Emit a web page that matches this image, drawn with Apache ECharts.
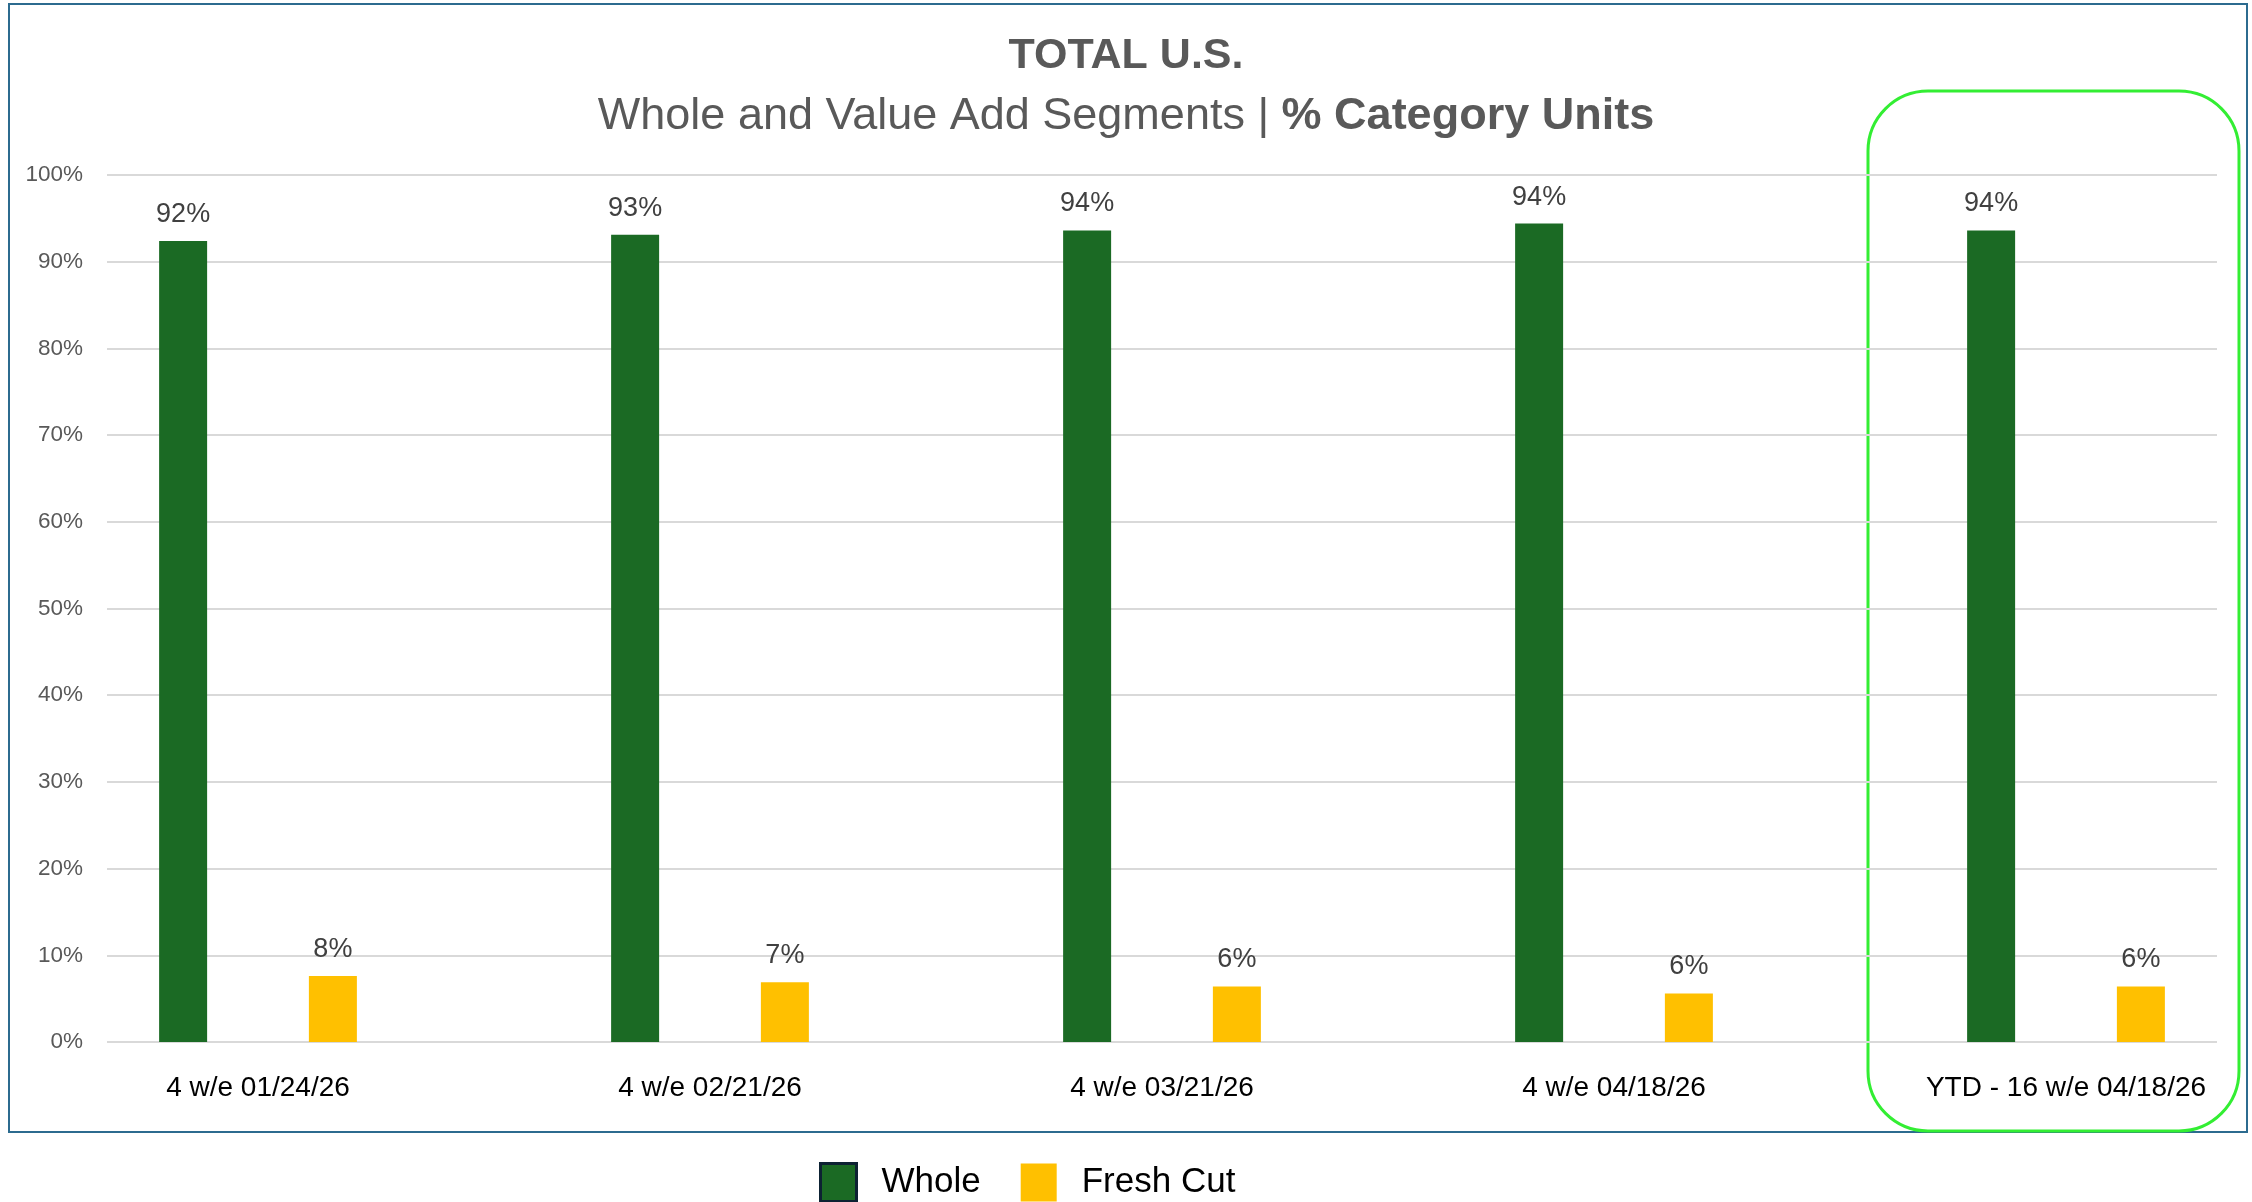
<!DOCTYPE html>
<html>
<head>
<meta charset="utf-8">
<script src="https://cdn.jsdelivr.net/npm/echarts@6/dist/echarts.min.js"></script>
<style>
  html, body { margin: 0; padding: 0; background: #fff; }
  #chart { width: 2252px; height: 1202px; }
</style>
</head>
<body>
<div id="chart"></div>
<script>
const categories = ['4 w/e 01/24/26', '4 w/e 02/21/26', '4 w/e 03/21/26', '4 w/e 04/18/26', 'YTD - 16 w/e 04/18/26'];
const wholeValues = [92.4, 93.1, 93.6, 94.4, 93.6];
const freshCutValues = [7.6, 6.9, 6.4, 5.6, 6.4];
const yTicks = [0, 100, 10]; // min, max, interval

const font = '"Liberation Sans", Arial, sans-serif';

var myChart = echarts.init(document.getElementById('chart'));

const barLabel = {
    show: true,
    position: 'top',
    distance: 13,
    color: '#404040',
    fontSize: 27,
    fontFamily: font,
    formatter: (p) => Math.round(p.value) + '%'
};

let option = {
    animation: false,
    textStyle: { fontFamily: font },
    title: [
        {
            text: 'TOTAL U.S.',
            left: 'center',
            top: 30,
            textStyle: { fontSize: 43, fontWeight: 'bold', color: '#595959', fontFamily: font }
        },
        {
            text: '{a|Whole and Value Add Segments | }{b|% Category Units}',
            left: 'center',
            top: 89,
            textStyle: {
                rich: {
                    a: { fontSize: 45, color: '#595959', fontWeight: 'normal', fontFamily: font },
                    b: { fontSize: 45, color: '#595959', fontWeight: 'bold', fontFamily: font }
                }
            }
        }
    ],
    legend: {
        left: 814,
        top: 1157,
        icon: 'rect',
        itemWidth: 36,
        itemHeight: 38,
        itemGap: 40,
        textStyle: { fontSize: 35, color: '#000', fontFamily: font, padding: [0, 0, 0, 20] },
        data: [
            { name: 'Whole', itemStyle: { borderColor: '#0d2233', borderWidth: 3 } },
            { name: 'Fresh Cut' }
        ]
    },
    grid: [
        // gridlines + y labels
        { left: 107, right: 35, top: 175, height: 867 },
        // bar placement: Excel spreads the groups wider than the gridlines,
        // so put first/last category on the grid edges (boundaryGap false)
        { left: 258, width: 1808, top: 175, height: 867 }
    ],
    xAxis: [
        { type: 'category', gridIndex: 0, data: categories, show: false },
        {
            type: 'category',
            gridIndex: 1,
            data: categories,
            boundaryGap: false,
            axisLine: { show: false },
            axisTick: { show: false },
            axisLabel: { color: '#000', fontSize: 28, margin: 32, fontFamily: font, interval: 0 }
        }
    ],
    yAxis: [
        {
            type: 'value',
            gridIndex: 0,
            min: yTicks[0],
            max: yTicks[1],
            interval: yTicks[2],
            axisLine: { show: false },
            axisTick: { show: false },
            axisLabel: { formatter: '{value}%', color: '#595959', fontSize: 22.5, margin: 24, fontFamily: font },
            splitLine: { lineStyle: { color: '#d9d9d9', width: 2 } }
        },
        {
            type: 'value',
            gridIndex: 1,
            min: yTicks[0],
            max: yTicks[1],
            interval: yTicks[2],
            show: false,
            splitLine: { show: false }
        }
    ],
    series: [
        {
            name: 'Whole',
            type: 'bar',
            xAxisIndex: 1,
            yAxisIndex: 1,
            data: wholeValues,
            barWidth: 48,
            barGap: '212%',
            itemStyle: { color: '#1b6a24' },
            label: barLabel
        },
        {
            name: 'Fresh Cut',
            type: 'bar',
            xAxisIndex: 1,
            yAxisIndex: 1,
            data: freshCutValues,
            barWidth: 48,
            itemStyle: { color: '#ffc000' },
            label: barLabel
        }
    ],
    graphic: [
        {
            type: 'rect',
            shape: { x: 9, y: 4, width: 2238, height: 1128 },
            style: { fill: 'none', stroke: '#2c6b8f', lineWidth: 2 },
            z: -1
        },
        {
            type: 'rect',
            shape: { x: 1868, y: 91, width: 371, height: 1040, r: 60 },
            style: { fill: 'none', stroke: '#33ee33', lineWidth: 3 }
        }
    ]
};

option && myChart.setOption(option);
</script>
</body>
</html>
